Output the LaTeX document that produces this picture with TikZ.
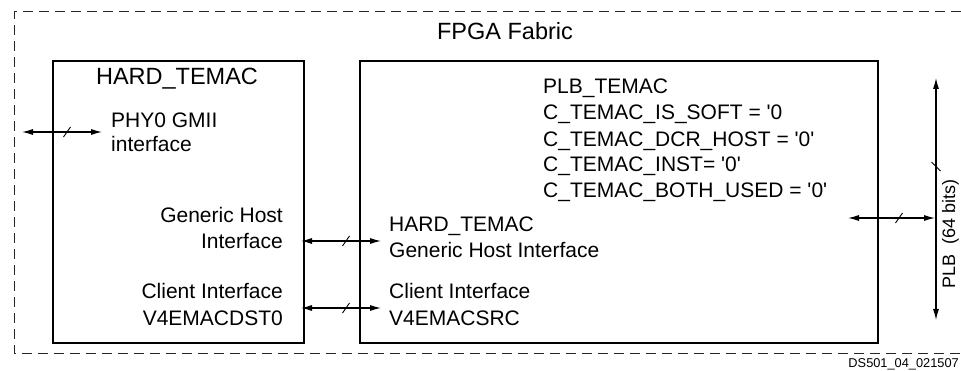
\documentclass[tikz,border=0pt]{standalone}
\usepackage{fontspec}
\setmainfont{Liberation Sans}
\usetikzlibrary{arrows.meta,calc}
\newcommand{\sq}{\textquotesingle}
\begin{document}
\begin{tikzpicture}[x=1pt,y=-1pt,
  box/.style={draw, line width=1.8pt, inner sep=0pt, anchor=north west},
  txt/.style={inner sep=0pt, anchor=base west, font=\fontsize{21}{26}\selectfont},
  txtr/.style={inner sep=0pt, anchor=base east, font=\fontsize{21}{26}\selectfont},
  ttl/.style={inner sep=0pt, anchor=base, font=\fontsize{23.5}{28}\selectfont},
  bus/.style={line width=1.1pt, {Latex[length=11pt,width=6pt]}-{Latex[length=11pt,width=6pt]}},
  tick/.style={line width=0.9pt},
  border/.style={line width=1pt, dash pattern=on 10pt off 6pt, draw=black!85}
]
\useasboundingbox (0,0) rectangle (961,371);

% FPGA fabric dashed border (open on the right, runs off the page)
\draw[border] (961,12) -- (14,12) -- (14,353) -- (961,353);
\node[ttl] (fab) at (505,40) {FPGA Fabric};

% blocks
\node[box, minimum width=251pt, minimum height=282pt] (hard) at (52,60) {};
\node[box, minimum width=518pt, minimum height=282pt] (plb) at (359,60) {};

% HARD_TEMAC texts
\node[ttl] (hardttl) at (177,85) {HARD\_TEMAC};
\node[txt] (phy1) at (111,128) {PHY0 GMII};
\node[txt] (phy2) at (111,152) {interface};
\node[txtr] (gh1) at (283,223) {Generic Host};
\node[txtr] (gh2) at (283,249) {Interface};
\node[txtr] (ci1) at (283,299) {Client Interface};
\node[txtr] (ci2) at (283,325) {V4EMACDST0};

% PLB_TEMAC texts
\node[txt] (p1) at (543,94) {PLB\_TEMAC};
\node[txt] (p2) at (543,120) {C\_TEMAC\_IS\_SOFT = \sq0};
\node[txt] (p3) at (543,147) {C\_TEMAC\_DCR\_HOST = \sq0\sq};
\node[txt] (p4) at (543,172) {C\_TEMAC\_INST= \sq0\sq};
\node[txt] (p5) at (543,198) {C\_TEMAC\_BOTH\_USED = \sq0\sq};
\node[txt] (hg1) at (389,232) {HARD\_TEMAC};
\node[txt] (hg2) at (389,258) {Generic Host Interface};
\node[txt] (sc1) at (389,299) {Client Interface};
\node[txt] (sc2) at (389,325) {V4EMACSRC};

% connector end points
\coordinate (phyL) at (22,132);  \coordinate (phyR) at (102,132);
\coordinate (ghiL) at (301,241); \coordinate (ghiR) at (381,241);
\coordinate (cliL) at (301,308); \coordinate (cliR) at (381,308);
\coordinate (plbL) at (848,218); \coordinate (plbR) at (935,218);
\coordinate (busT) at (936,78);  \coordinate (busB) at (936,320);

% buses
\draw[bus] (phyL) -- (phyR);
\draw[bus] (ghiL) -- (ghiR);
\draw[bus] (cliL) -- (cliR);
\draw[bus] (plbL) -- (plbR);
\draw[bus] (busT) -- (busB);

% bus-width ticks
\draw[tick] (67,132) ++(-3.5,5) -- ++(7,-10);
\draw[tick] (346,241) ++(-3.5,5) -- ++(7,-10);
\draw[tick] (346,308) ++(-3.5,5) -- ++(7,-10);
\draw[tick] (899,218) ++(-3.5,5) -- ++(7,-10);
\draw[tick] (936,166.5) ++(-4.5,-4.5) -- ++(9,9);

\node[rotate=90, inner sep=0pt, anchor=base, font=\fontsize{18}{22}\selectfont] (plblbl) at (955,234) {PLB\ \ (64 bits)};

\node[inner sep=0pt, anchor=base east, font=\fontsize{12.8}{15}\selectfont] (ds) at (959,367) {DS501\_04\_021507};
\end{tikzpicture}
\end{document}
